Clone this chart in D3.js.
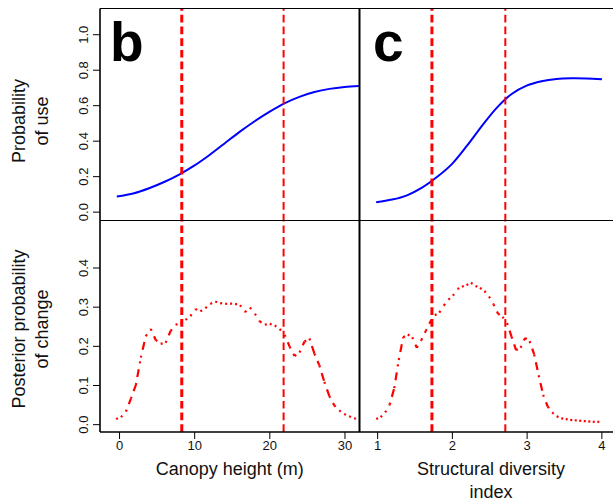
<!DOCTYPE html>
<html>
<head>
<meta charset="utf-8">
<script src="https://cdn.jsdelivr.net/npm/d3@7"></script>
<style>
  html, body { margin: 0; padding: 0; background: #fff; }
  svg { display: block; font-family: "Liberation Sans", Arial, sans-serif; }
</style>
</head>
<body>
<svg id="chart" width="613" height="501"></svg>
<script>
// Probability of use along each gradient
const canopyUseX = [-0.3, 2, 4, 6, 8, 10, 12, 14, 16, 18, 20, 22, 24, 26, 28, 30, 31.9];
const canopyUse  = [0.085, 0.104, 0.132, 0.167, 0.209, 0.259, 0.318, 0.383, 0.448, 0.508, 0.562, 0.61, 0.647, 0.674, 0.692, 0.703, 0.708];

const sdiUseX = [0.987, 1.2, 1.4, 1.6, 1.8, 2.0, 2.2, 2.4, 2.6, 2.8, 3.0, 3.2, 3.4, 3.6, 3.8, 4.008];
const sdiUse  = [0.053, 0.068, 0.092, 0.135, 0.195, 0.268, 0.37, 0.482, 0.585, 0.663, 0.71, 0.735, 0.748, 0.752, 0.751, 0.746];

// Posterior probability of a change point
const canopyChangeX = [-0.40, 0.26, 0.92, 1.58, 2.24, 2.90, 3.56, 4.22, 4.88, 5.54, 6.20, 6.86, 7.52, 8.18, 8.84,
  9.50, 10.16, 10.82, 11.48, 12.14, 12.80, 13.46, 14.12, 14.78, 15.44, 16.10, 16.76, 17.42, 18.08, 18.74,
  19.40, 20.06, 20.72, 21.38, 22.04, 22.70, 23.36, 24.02, 24.68, 25.34, 26.00, 26.66, 27.32, 27.98, 28.64,
  29.30, 29.96, 30.62, 31.28, 31.94];
const canopyChange = [0.013, 0.018, 0.032, 0.065, 0.100, 0.170, 0.225, 0.243, 0.215, 0.205, 0.208, 0.238, 0.254, 0.258, 0.266,
  0.276, 0.294, 0.288, 0.296, 0.307, 0.313, 0.309, 0.307, 0.308, 0.307, 0.304, 0.286, 0.298, 0.282, 0.262,
  0.254, 0.256, 0.252, 0.243, 0.228, 0.198, 0.174, 0.183, 0.211, 0.219, 0.180, 0.150, 0.108, 0.072, 0.048,
  0.035, 0.026, 0.020, 0.015, 0.012];

const sdiChangeX = [0.987, 1.047, 1.108, 1.168, 1.229, 1.289, 1.349, 1.410, 1.470, 1.531, 1.591, 1.651, 1.712,
  1.772, 1.832, 1.893, 1.953, 2.014, 2.074, 2.134, 2.195, 2.255, 2.316, 2.376, 2.436, 2.497, 2.557, 2.618,
  2.678, 2.738, 2.799, 2.859, 2.919, 2.980, 3.040, 3.101, 3.161, 3.221, 3.282, 3.342, 3.402, 3.463, 3.523,
  3.584, 3.644, 3.704, 3.765, 3.825, 3.885, 3.946, 4.006];
const sdiChange = [0.013, 0.018, 0.030, 0.050, 0.092, 0.164, 0.222, 0.229, 0.222, 0.195, 0.215, 0.238, 0.262,
  0.278, 0.285, 0.303, 0.318, 0.328, 0.345, 0.351, 0.355, 0.361, 0.353, 0.348, 0.340, 0.326, 0.306, 0.282,
  0.274, 0.258, 0.223, 0.189, 0.195, 0.220, 0.212, 0.178, 0.125, 0.075, 0.045, 0.030, 0.020, 0.015, 0.013,
  0.011, 0.010, 0.009, 0.008, 0.007, 0.006, 0.006, 0.006];

// Estimated thresholds
const canopyBreaks = [8.35, 21.9];
const sdiBreaks = [1.733, 2.715];

// Tick values
const useTicks = [0, 0.2, 0.4, 0.6, 0.8, 1.0];
const changeTicks = [0, 0.1, 0.2, 0.3, 0.4];
const canopyTicks = [0, 10, 20, 30];
const sdiTicks = [1, 2, 3, 4];

const svg = d3.select("#chart");
svg.append("rect").attr("width", 613).attr("height", 501).attr("fill", "#fff");

const top0 = 8.5, mid = 220.5, bot = 432;
const left0 = 100, split = 359.5, right0 = 619;

const xCanopy = d3.scaleLinear().domain([-2.533, 32]).range([left0, split]);
const xSdi = d3.scaleLinear().domain([0.764, 4.236]).range([split, right0]);
const yUse = d3.scaleLinear().domain([-0.05, 1.145]).range([mid, top0]);
const yChange = d3.scaleLinear().domain([-0.02, 0.52]).range([bot, mid]);

const defs = svg.append("defs");
defs.append("clipPath").attr("id", "clipL").append("rect")
  .attr("x", left0).attr("y", top0).attr("width", split - left0).attr("height", bot - top0);
defs.append("clipPath").attr("id", "clipR").append("rect")
  .attr("x", split).attr("y", top0).attr("width", 613 - split).attr("height", bot - top0);

function panel(clipId, x, useX, useY, chX, chY, breaks, thick) {
  const g = svg.append("g").attr("clip-path", `url(#${clipId})`);

  // fitted probability of use
  const line = d3.line().x(d => x(d[0])).y(d => yUse(d[1])).curve(d3.curveCatmullRom.alpha(0.5));
  g.append("path")
    .datum(d3.zip(useX, useY))
    .attr("d", line)
    .attr("fill", "none")
    .attr("stroke", "#0000ff")
    .attr("stroke-width", 2);

  // posterior change curve, dash-dot pattern restarted on every segment
  const pts = d3.zip(chX, chY);
  g.selectAll("line.seg")
    .data(d3.pairs(pts))
    .join("line")
    .attr("class", "seg")
    .attr("x1", d => x(d[0][0])).attr("y1", d => yChange(d[0][1]))
    .attr("x2", d => x(d[1][0])).attr("y2", d => yChange(d[1][1]))
    .attr("stroke", "#ff0000")
    .attr("stroke-width", 2.2)
    .attr("stroke-dasharray", "2,6,8,6");

  // threshold lines through both rows
  g.selectAll("line.brk")
    .data(breaks)
    .join("line")
    .attr("class", "brk")
    .attr("x1", d => x(d)).attr("x2", d => x(d))
    .attr("y1", bot).attr("y2", top0)
    .attr("stroke", "#ff0000")
    .attr("stroke-width", (d, i) => i === 0 ? thick : 2)
    .attr("stroke-dasharray", "7.7,4");
}

panel("clipL", xCanopy, canopyUseX, canopyUse, canopyChangeX, canopyChange, canopyBreaks, 3);
panel("clipR", xSdi, sdiUseX, sdiUse, sdiChangeX, sdiChange, sdiBreaks, 3);

// frames
const frame = svg.append("g").attr("stroke", "#000").attr("fill", "none");
frame.append("line").attr("x1", left0).attr("x2", 613).attr("y1", top0).attr("y2", top0).attr("stroke-width", 1);
frame.append("line").attr("x1", left0).attr("x2", 613).attr("y1", mid).attr("y2", mid).attr("stroke-width", 1);
frame.append("line").attr("x1", left0).attr("x2", 613).attr("y1", bot).attr("y2", bot).attr("stroke-width", 1.6);
frame.append("line").attr("x1", left0).attr("x2", left0).attr("y1", top0).attr("y2", bot).attr("stroke-width", 1.6);
frame.append("line").attr("x1", split).attr("x2", split).attr("y1", top0).attr("y2", bot).attr("stroke-width", 2);

// axes
function styleAxis(g) {
  g.select(".domain").remove();
  g.selectAll(".tick line").attr("stroke", "#000").attr("stroke-width", 1);
  g.selectAll(".tick text").attr("fill", "#111").style("font-size", "13px")
    .style("font-family", "'Liberation Sans', Arial, sans-serif");
}

function yAxis(scale, ticks) {
  const g = svg.append("g").attr("transform", `translate(${left0},0)`)
    .call(d3.axisLeft(scale).tickValues(ticks).tickSize(7).tickSizeOuter(0).tickFormat(d3.format(".1f")));
  styleAxis(g);
  g.selectAll(".tick text")
    .attr("transform", "rotate(-90)")
    .attr("text-anchor", "middle")
    .attr("x", 0).attr("y", -12).attr("dy", null);
}
yAxis(yUse, useTicks);
yAxis(yChange, changeTicks);

function xAxis(scale, ticks) {
  const g = svg.append("g").attr("transform", `translate(0,${bot})`)
    .call(d3.axisBottom(scale).tickValues(ticks).tickSize(7).tickSizeOuter(0).tickFormat(d3.format("d")));
  styleAxis(g);
  g.selectAll(".tick text").attr("y", 18).attr("dy", null);
}
xAxis(xCanopy, canopyTicks);
xAxis(xSdi, sdiTicks);

// axis titles
const title = svg.append("g").attr("fill", "#111").style("font-size", "18px");
title.append("text").attr("x", (left0 + split) / 2).attr("y", 475).attr("text-anchor", "middle")
  .text("Canopy height (m)");
title.append("text").attr("x", 491).attr("y", 475).attr("text-anchor", "middle")
  .text("Structural diversity");
title.append("text").attr("x", 491).attr("y", 498).attr("text-anchor", "middle")
  .text("index");

function yTitle(lines, cy) {
  lines.forEach((t, i) => {
    title.append("text")
      .attr("transform", `translate(${24.5 + i * 23.5},${cy}) rotate(-90)`)
      .attr("text-anchor", "middle")
      .text(t);
  });
}
yTitle(["Probability", "of use"], 121);
yTitle(["Posterior probability", "of change"], 329);

// panel letters
const letters = svg.append("g").attr("fill", "#000").style("font-size", "55px").style("font-weight", "bold");
letters.append("text").attr("x", 110).attr("y", 61).text("b");
letters.append("text").attr("x", 373).attr("y", 61).text("c");
</script>
</body>
</html>
